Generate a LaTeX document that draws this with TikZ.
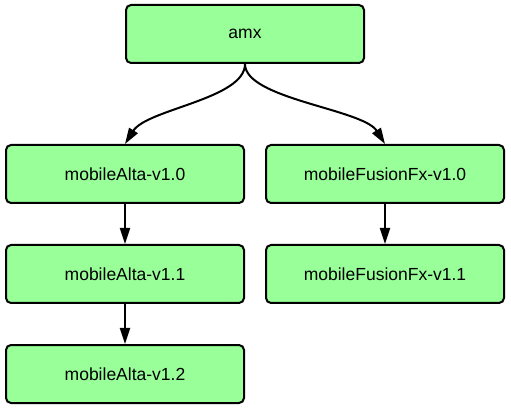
\documentclass[tikz,border=0pt]{standalone}
\usepackage{fontspec}
\setmainfont{Liberation Sans}
\usetikzlibrary{arrows.meta}
\definecolor{leafgreen}{RGB}{153,255,153}

\begin{document}
\begin{tikzpicture}[x=1pt,y=1pt,
  pkg/.style={draw, line width=2pt, rounded corners=5pt, fill=leafgreen,
    minimum width=238pt, minimum height=58pt, font=\fontsize{17.5}{20}\selectfont},
  dep/.style={line width=2pt, -{Triangle[length=16pt,width=10pt]}}]
\useasboundingbox (0,0) rectangle (511,-411);
% package nodes
\node[pkg] (amx) at (245,-34) {amx};
\node[pkg] (alta0) at (125,-174) {mobileAlta-v1.0};
\node[pkg] (fusion0) at (385,-174) {mobileFusionFx-v1.0};
\node[pkg] (alta1) at (125,-274) {mobileAlta-v1.1};
\node[pkg] (fusion1) at (385,-274) {mobileFusionFx-v1.1};
\node[pkg] (alta2) at (125,-374) {mobileAlta-v1.2};
% dependencies
\draw[dep] (amx.south) .. controls +(0,-35) and +(22,35) .. (alta0.north);
\draw[dep] (amx.south) .. controls +(0,-35) and +(-22,35) .. (fusion0.north);
\draw[dep] (alta0) -- (alta1);
\draw[dep] (alta1) -- (alta2);
\draw[dep] (fusion0) -- (fusion1);
\end{tikzpicture}
\end{document}
